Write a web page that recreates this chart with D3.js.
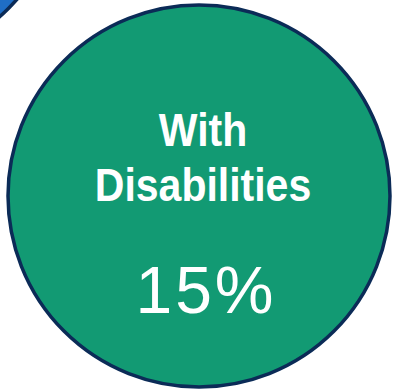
<!DOCTYPE html>
<html>
<head>
<meta charset="utf-8">
<script src="https://cdn.jsdelivr.net/npm/d3@7"></script>
<style>
  html, body { margin: 0; padding: 0; background: #fff; }
  svg { display: block; }
</style>
</head>
<body>
<svg id="chart"></svg>
<script>
  'use strict';

  // groups shown as bubbles (the blue one is mostly cut off, top-left)
  var categories = ['Without Disabilities', 'With Disabilities'];
  var values = [85, 15];
  var labelLines = [['Without', 'Disabilities'], ['With', 'Disabilities']];

  var width = 393, height = 390;

  var svg = d3.select('#chart')
    .attr('width', width)
    .attr('height', height);

  var colors = d3.scaleOrdinal()
    .domain(categories)
    .range(['#1f6ec6', '#129a73']);

  /* bubble layout, one per group */
  var layout = [
    { cx: -150, cy: -150, r: 224 },
    { cx: 199, cy: 196, r: 191 }
  ];

  var data = categories.map(function(c, i) {
    return { name: c, value: values[i], lines: labelLines[i], pos: layout[i] };
  });

  var g = svg.selectAll('.bubble')
    .data(data)
    .enter().append('g')
      .attr('class', 'bubble')
      .attr('transform', function(d) {
        return 'translate(' + d.pos.cx + ',' + d.pos.cy + ')';
      });

  g.append('circle')
    .attr('r', function(d) { return d.pos.r; })
    .attr('fill', function(d) { return colors(d.name); })
    .attr('stroke', '#0b2b57')
    .attr('stroke-width', 3.5);

  /* labels */
  g.filter(function(d) { return d.pos.cx > 0; })
    .each(function(d) {
      var el = d3.select(this);
      el.selectAll('.name')
        .data(d.lines)
        .enter().append('text')
          .attr('class', 'name')
          .attr('transform', function(l, i) {
            return 'translate(4,' + (-50 + i * 55) + ') scale(1,1.13)';
          })
          .attr('text-anchor', 'middle')
          .attr('fill', '#fff')
          .style('font-family', '"Liberation Sans", Arial, sans-serif')
          .style('font-weight', 'bold')
          .style('font-size', '41px')
          .text(function(l) { return l; });

      el.append('text')
        .attr('x', 7)
        .attr('y', 117)
        .attr('text-anchor', 'middle')
        .attr('fill', '#fff')
        .style('font-family', '"Liberation Sans", Arial, sans-serif')
        .style('font-size', '66px')
        .style('letter-spacing', '3px')
        .text(d3.format('d')(d.value) + '%');
    });
</script>
</body>
</html>
